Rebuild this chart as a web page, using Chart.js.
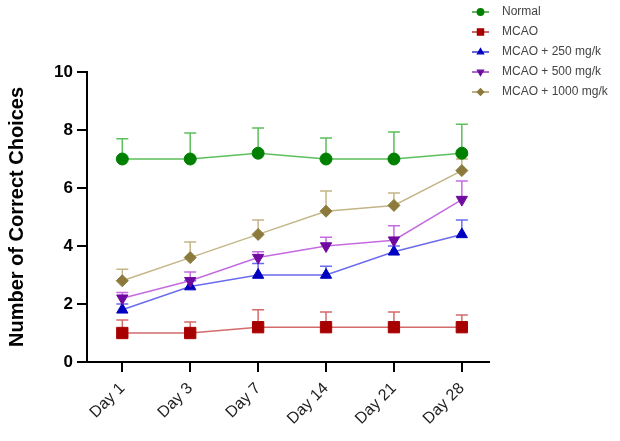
<!DOCTYPE html>
<html lang="en">
  <head>
    <meta charset="UTF-8" />
    <title>Correct choices</title>
    <style>
      * { margin: 0; padding: 0; box-sizing: border-box; }
      body { background: #fff; }
      .chartBox { width: 620px; height: 441px; }
    </style>
  </head>
  <body>
    <div class="chartBox">
      <canvas id="myChart"></canvas>
    </div>

    <script src="https://cdn.jsdelivr.net/npm/chart.js"></script>
    <script>
      const days = ["Day 1", "Day 3", "Day 7", "Day 14", "Day 21", "Day 28"];
      const yTicks = [0, 2, 4, 6, 8, 10];

      const normal = [7, 7, 7.2, 7, 7, 7.2];
      const normalErr = [0.7, 0.9, 0.87, 0.72, 0.93, 1.0];
      const mcao = [1, 1, 1.2, 1.2, 1.2, 1.2];
      const mcaoErr = [0.45, 0.38, 0.6, 0.52, 0.52, 0.42];
      const mcao250 = [1.8, 2.6, 3.0, 3.0, 3.8, 4.4];
      const mcao250Err = [0.2, 0.2, 0.4, 0.3, 0.2, 0.5];
      const mcao500 = [2.2, 2.8, 3.6, 4.0, 4.2, 5.6];
      const mcao500Err = [0.2, 0.3, 0.2, 0.3, 0.5, 0.64];
      const mcao1000 = [2.8, 3.6, 4.4, 5.2, 5.4, 6.6];
      const mcao1000Err = [0.4, 0.54, 0.5, 0.7, 0.43, 0.4];

      const toXY = (arr) => arr.map((v, i) => ({ x: i, y: v }));

      function makeSet(label, values, errs, lineColor, pointColor, style, radius, rotation) {
        return {
          label: label,
          data: toXY(values),
          errors: errs,
          borderColor: lineColor,
          borderWidth: 1.5,
          backgroundColor: pointColor,
          pointBackgroundColor: pointColor,
          pointBorderColor: pointColor,
          pointBorderWidth: 1,
          pointStyle: style,
          pointRadius: radius,
          pointRotation: rotation || 0,
          tension: 0,
        };
      }

      const data = {
        datasets: [
          makeSet("MCAO + 1000 mg/k", mcao1000, mcao1000Err, "#c4b587", "#8c7a3c", "rectRot", 6),
          makeSet("MCAO + 500 mg/k", mcao500, mcao500Err, "#c56be0", "#6f0aa0", "triangle", 6.5, 180),
          makeSet("MCAO + 250 mg/k", mcao250, mcao250Err, "#6b6bf0", "#0000c0", "triangle", 6.5),
          makeSet("MCAO", mcao, mcaoErr, "#d46a6a", "#a80000", "rect", 8),
          makeSet("Normal", normal, normalErr, "#5cbf5c", "#008000", "circle", 6),
        ],
      };

      // upper error bars only, drawn behind the markers
      const errorBars = {
        id: "errorBars",
        beforeDatasetsDraw(chart) {
          const { ctx, scales: { x, y } } = chart;
          ctx.save();
          chart.data.datasets.forEach((ds) => {
            ctx.strokeStyle = ds.borderColor;
            ctx.lineWidth = 1.5;
            ds.data.forEach((p, i) => {
              const px = x.getPixelForValue(p.x);
              const py = y.getPixelForValue(p.y);
              const pt = y.getPixelForValue(p.y + ds.errors[i]);
              ctx.beginPath();
              ctx.moveTo(px, py);
              ctx.lineTo(px, pt);
              ctx.moveTo(px - 6, pt);
              ctx.lineTo(px + 6, pt);
              ctx.stroke();
            });
          });
          ctx.restore();
        },
      };

      // legend in the top right, GraphPad style
      const sideLegend = {
        id: "sideLegend",
        afterDraw(chart) {
          const { ctx } = chart;
          const order = [4, 3, 2, 1, 0];
          ctx.save();
          order.forEach((di, row) => {
            const ds = chart.data.datasets[di];
            const y = 12 + row * 20;
            ctx.strokeStyle = ds.pointBackgroundColor;
            ctx.lineWidth = 1.2;
            ctx.beginPath();
            ctx.moveTo(472, y);
            ctx.lineTo(489, y);
            ctx.stroke();
            ctx.fillStyle = ds.pointBackgroundColor;
            ctx.strokeStyle = ds.pointBackgroundColor;
            Chart.helpers.drawPoint(ctx, {
              pointStyle: ds.pointStyle,
              radius: ds.pointRadius * 0.55,
              rotation: ds.pointRotation,
              borderWidth: 1,
            }, 480.5, y);
            ctx.fillStyle = "#444";
            ctx.font = "12px 'Liberation Sans', Arial, sans-serif";
            ctx.textBaseline = "middle";
            ctx.fillText(ds.label, 502, y);
          });
          ctx.restore();
        },
      };

      const config = {
        type: "line",
        data: data,
        options: {
          responsive: false,
          animation: false,
          layout: { padding: { top: 72, right: 131, left: 0, bottom: 0 } },
          plugins: {
            legend: { display: false },
            tooltip: { enabled: false },
          },
          scales: {
            x: {
              type: "linear",
              min: -0.52,
              max: 5.4,
              afterBuildTicks: (axis) => {
                axis.ticks = days.map((d, i) => ({ value: i }));
              },
              afterFit: (axis) => {
                axis.height = 79;
              },
              ticks: {
                autoSkip: false,
                minRotation: 45,
                maxRotation: 45,
                color: "#222",
                padding: 7,
                font: { family: "'Liberation Sans', Arial, sans-serif", size: 16 },
                callback: (v) => days[v],
              },
              grid: {
                drawOnChartArea: false,
                drawTicks: true,
                tickLength: 10,
                color: "#000",
                lineWidth: 2,
              },
              border: { color: "#000", width: 2 },
            },
            y: {
              min: 0,
              max: 10,
              afterBuildTicks: (axis) => {
                axis.ticks = yTicks.map((v) => ({ value: v }));
              },
              afterFit: (axis) => {
                axis.width = 87;
              },
              ticks: {
                color: "#000",
                padding: 4,
                font: { family: "'Liberation Sans', Arial, sans-serif", size: 17, weight: "bold" },
              },
              grid: {
                drawOnChartArea: false,
                drawTicks: true,
                tickLength: 10,
                color: "#000",
                lineWidth: 2,
              },
              border: { color: "#000", width: 2 },
              title: {
                display: true,
                text: "Number of Correct Choices",
                color: "#000",
                padding: { top: 5, bottom: 0 },
                font: { family: "'Liberation Sans', Arial, sans-serif", size: 20, weight: "bold" },
              },
            },
          },
        },
        plugins: [errorBars, sideLegend],
      };

      const ctx = document.getElementById("myChart");
      ctx.width = 620;
      ctx.height = 441;
      const myChart = new Chart(ctx, config);
    </script>
  </body>
</html>
